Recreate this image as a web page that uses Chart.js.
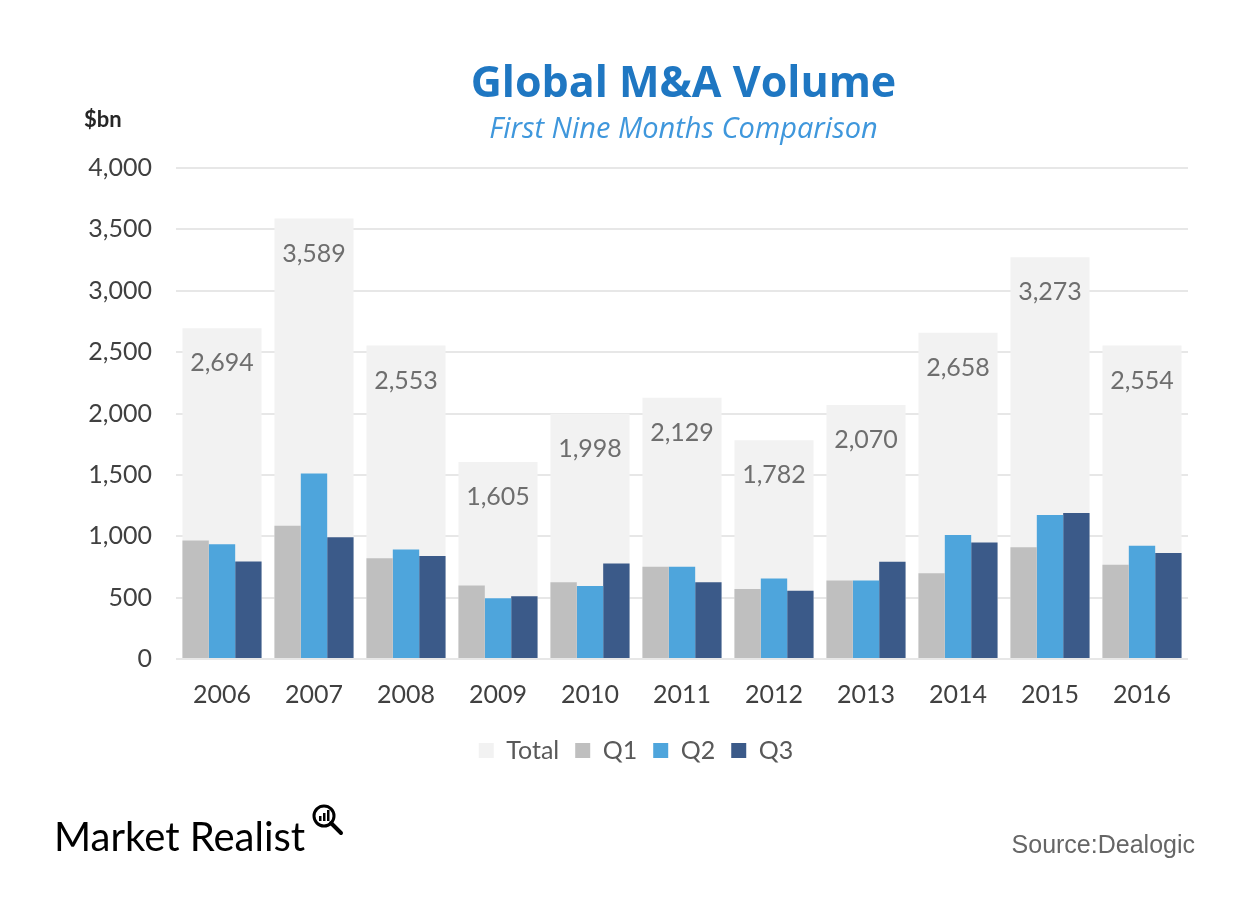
<!DOCTYPE html>
<html>
<head>
<meta charset="utf-8">
<script src="https://cdn.jsdelivr.net/npm/chart.js@4/dist/chart.umd.min.js"></script>
<style>
  html, body { margin: 0; padding: 0; background: #ffffff; }
  #wrap { position: relative; width: 1251px; height: 907px; overflow: hidden; font-family: Lato, "Open Sans", sans-serif; }
  #wrap canvas { position: absolute; left: 0; top: 0; }
  .txt { position: absolute; white-space: nowrap; }
  #title { left: 0; width: 1367px; top: 51px; text-align: center; font-family: "Open Sans", sans-serif; font-weight: bold; font-size: 43px; color: #1f77c2; }
  #subtitle { left: 0; width: 1367px; top: 107px; text-align: center; font-family: "Open Sans", sans-serif; font-style: italic; font-size: 29px; color: #3f97dc; }
  #unit { left: 84px; top: 105px; font-weight: bold; font-size: 22px; color: #262626; }
  #brand { left: 54px; top: 812px; font-size: 40px; color: #000; letter-spacing: 0px; }
  #source { right: 56px; top: 830px; font-family: "Liberation Sans", Arial, sans-serif; font-size: 25px; color: #666; }
  #icon { position: absolute; left: 309px; top: 802px; }
</style>
</head>
<body>
<div id="wrap">
  <canvas id="c" width="1251" height="907"></canvas>
  <div class="txt" id="title">Global M&amp;A Volume</div>
  <div class="txt" id="subtitle">First Nine Months Comparison</div>
  <div class="txt" id="unit">$bn</div>
  <div class="txt" id="brand">Market Realist</div>
  <svg id="icon" width="40" height="40" viewBox="0 0 40 40">
    <circle cx="15" cy="14" r="10" fill="none" stroke="#000" stroke-width="3"/>
    <line x1="22" y1="21" x2="32" y2="31" stroke="#000" stroke-width="4" stroke-linecap="round"/>
    <rect x="10" y="14" width="2.5" height="5" fill="#000"/>
    <rect x="14" y="11" width="2.5" height="8" fill="#000"/>
    <rect x="18" y="8" width="2.5" height="11" fill="#000"/>
  </svg>
  <div class="txt" id="source">Source:Dealogic</div>
</div>
<script>
const years = ["2006","2007","2008","2009","2010","2011","2012","2013","2014","2015","2016"];
const total = [2694, 3589, 2553, 1605, 1998, 2129, 1782, 2070, 2658, 3273, 2554];
const q1 = [965, 1085, 820, 598, 625, 752, 571, 639, 698, 910, 768];
const q2 = [935, 1512, 893, 495, 595, 752, 656, 639, 1010, 1173, 923];
const q3 = [794, 992, 840, 512, 778, 625, 555, 792, 950, 1190, 863];
const yTicks = [0, 500, 1000, 1500, 2000, 2500, 3000, 3500, 4000];

const fmt = v => v.toLocaleString('en-US');

const totalLabels = {
  id: 'totalLabels',
  afterDatasetsDraw(chart) {
    const meta = chart.getDatasetMeta(0);
    const ctx = chart.ctx;
    ctx.save();
    ctx.font = '25px Lato, "Open Sans", sans-serif';
    ctx.fillStyle = '#6e6e6e';
    ctx.textAlign = 'center';
    ctx.textBaseline = 'middle';
    meta.data.forEach((bar, i) => {
      ctx.fillText(fmt(total[i]), bar.x, bar.y + 35);
    });
    ctx.restore();
  }
};

new Chart(document.getElementById('c'), {
  type: 'bar',
  data: {
    labels: years,
    datasets: [
      { label: 'Total', data: total, backgroundColor: '#f2f2f2', grouped: false, order: 1,
        barPercentage: 0.86, categoryPercentage: 1 },
      { label: 'Q1', data: q1, backgroundColor: '#bfbfbf', order: 0, barPercentage: 1, categoryPercentage: 0.86 },
      { label: 'Q2', data: q2, backgroundColor: '#4ea5dc', order: 0, barPercentage: 1, categoryPercentage: 0.86 },
      { label: 'Q3', data: q3, backgroundColor: '#3b5a89', order: 0, barPercentage: 1, categoryPercentage: 0.86 }
    ]
  },
  options: {
    responsive: false,
    animation: false,
    layout: { padding: { top: 168, right: 63, bottom: 134, left: 84 } },
    plugins: {
      tooltip: { enabled: false },
      title: { display: false },
      legend: {
        position: 'bottom',
        labels: {
          sort: (a, b) => a.datasetIndex - b.datasetIndex,
          boxWidth: 15, boxHeight: 15,
          padding: 16,
          color: '#595959',
          font: { family: 'Lato, "Open Sans", sans-serif', size: 25 }
        }
      }
    },
    scales: {
      x: {
        grid: { display: false, drawTicks: false },
        border: { display: false },
        ticks: { color: '#404040', padding: 21, font: { family: 'Lato, "Open Sans", sans-serif', size: 25 } },
        afterFit(s) { s.height = 63; }
      },
      y: {
        min: 0, max: 4000,
        afterBuildTicks(s) { s.ticks = yTicks.map(v => ({ value: v })); },
        grid: { color: '#e7e7e7', lineWidth: 2, drawTicks: false },
        border: { display: false },
        ticks: { color: '#404040', padding: 24, callback: v => fmt(v), font: { family: 'Lato, "Open Sans", sans-serif', size: 25 } },
        afterFit(s) { s.width = 92; }
      }
    }
  },
  plugins: [totalLabels]
});
</script>
</body>
</html>
